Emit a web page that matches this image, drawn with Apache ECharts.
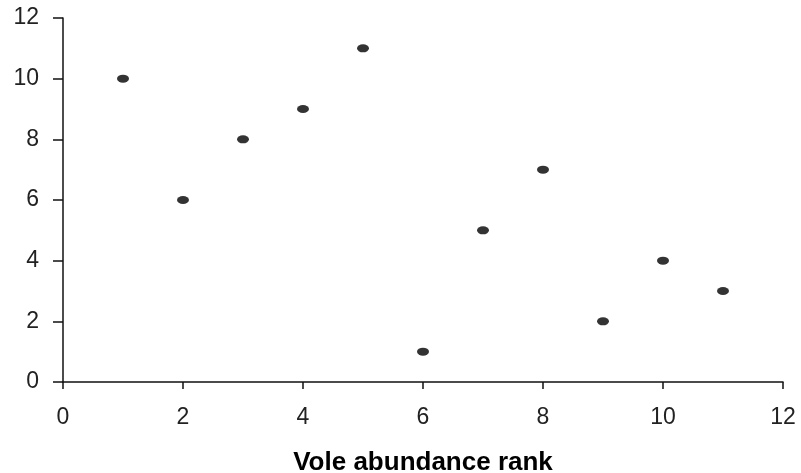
<!DOCTYPE html>
<html>
<head>
<meta charset="utf-8">
<script src="https://cdn.jsdelivr.net/npm/echarts@6/dist/echarts.min.js"></script>
<style>
  html, body { margin: 0; padding: 0; background: #fff; }
  #chart { width: 801px; height: 473px; }
</style>
</head>
<body>
<div id="chart"></div>
<script>
// Vole abundance rank versus the paired rank on the vertical axis
const voleRank = [1, 2, 3, 4, 5, 6, 7, 8, 9, 10, 11];
const otherRank = [10, 6, 8, 9, 11, 1, 5, 7, 2, 4, 3];
const xTitle = 'Vole abundance rank';

const points = voleRank.map((x, i) => [x, otherRank[i]]);

const axisText = { color: '#222', fontFamily: 'Liberation Sans, Arial, sans-serif', fontSize: 23 };
const lineStyle = { color: '#111', width: 1.5 };

const chart = echarts.init(document.getElementById('chart'), null, { renderer: 'canvas' });
chart.setOption({
  animation: false,
  backgroundColor: '#ffffff',
  grid: { left: 63, right: 18, top: 18, bottom: 91, containLabel: false, outerBoundsMode: 'none' },
  xAxis: {
    type: 'value',
    min: 0, max: 12, interval: 2,
    name: xTitle,
    nameLocation: 'middle',
    nameGap: 68,
    nameTextStyle: { color: '#000', fontFamily: 'Liberation Sans, Arial, sans-serif', fontSize: 26, fontWeight: 'bold' },
    axisLine: { show: true, onZero: false, lineStyle },
    axisTick: { show: true, inside: false, length: 7, lineStyle },
    axisLabel: Object.assign({ margin: 24 }, axisText),
    splitLine: { show: false }
  },
  yAxis: {
    type: 'value',
    min: 0, max: 12, interval: 2,
    axisLine: { show: true, onZero: false, lineStyle },
    axisTick: { show: true, inside: false, length: 10, lineStyle },
    axisLabel: Object.assign({ margin: 24 }, axisText),
    splitLine: { show: false }
  },
  series: [{
    type: 'scatter',
    data: points,
    symbol: 'circle',
    symbolSize: [12, 8],
    itemStyle: { color: '#000' }
  }]
});
</script>
</body>
</html>
